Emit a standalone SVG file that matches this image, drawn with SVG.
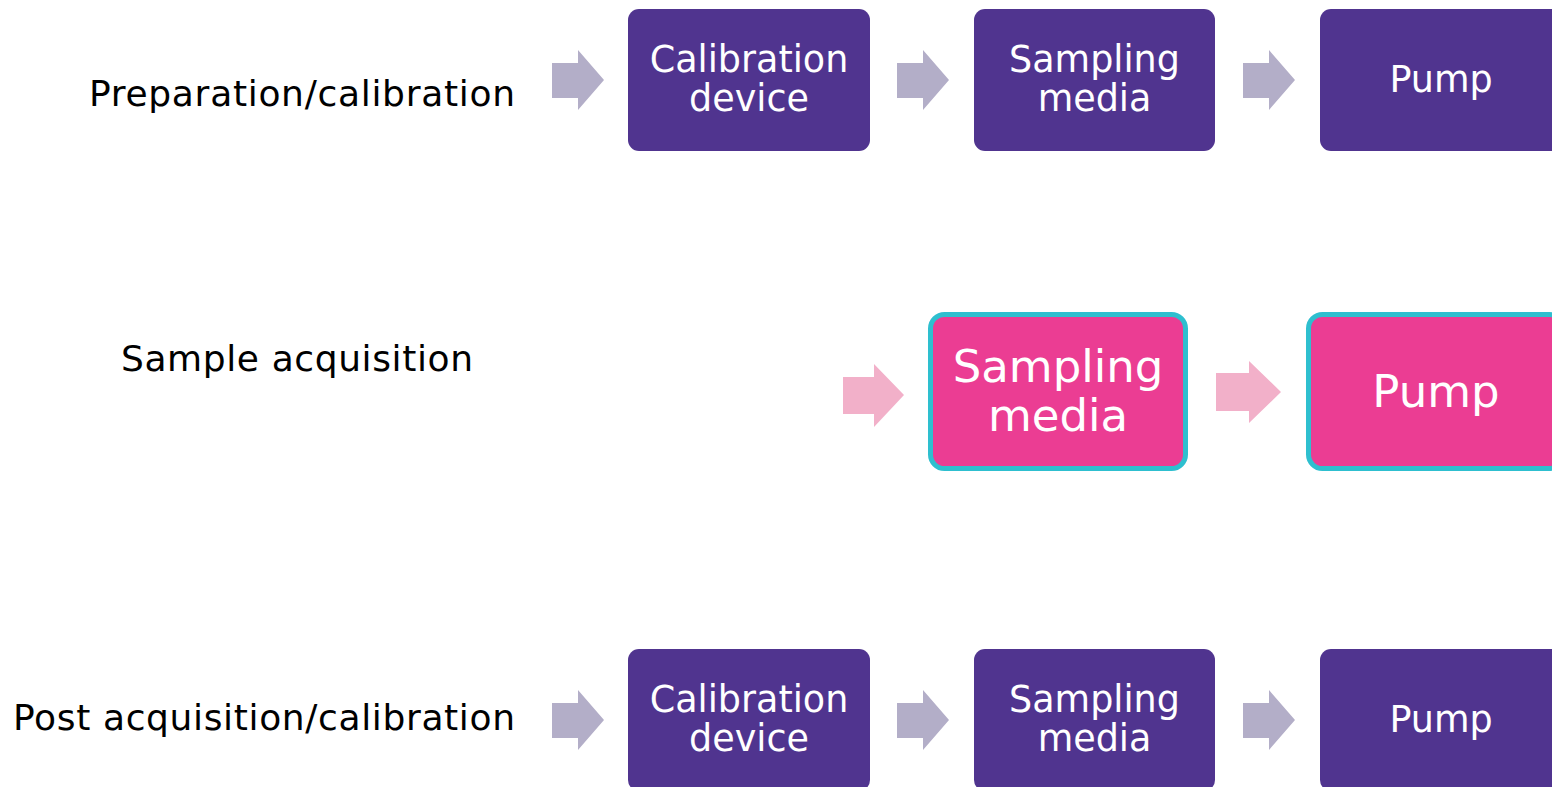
<svg xmlns="http://www.w3.org/2000/svg" width="1552" height="787" viewBox="0 0 1552 787">
<defs>
<style>
.lbl{font-family:"DejaVu Sans",Verdana,sans-serif;font-size:36px;fill:#000}
.bt{font-family:"DejaVu Sans",Verdana,sans-serif;font-size:36.5px;fill:#fff;text-anchor:middle}
.bt2{font-family:"DejaVu Sans",Verdana,sans-serif;font-size:45px;fill:#fff;text-anchor:middle}
.pb{fill:#50348f}
.pk{fill:#eb3d93;stroke:#2ebfcf;stroke-width:5}
.ga{fill:#b3aec8}
.pa{fill:#f2b0c9}
</style>
</defs>
<rect width="1552" height="787" fill="#fff"/>
<g id="labels">
<text class="lbl" x="89" y="106" textLength="426" lengthAdjust="spacing">Preparation/calibration</text>
<text class="lbl" x="121" y="371" textLength="352" lengthAdjust="spacing">Sample acquisition</text>
<text class="lbl" x="13" y="730" textLength="502" lengthAdjust="spacing">Post acquisition/calibration</text>
</g>
<g id="connectors">
<polygon class="ga" points="552,63 578,63 578,50 604,80 578,110 578,98 552,98"/>
<polygon class="ga" points="897,63 923,63 923,50 949,80 923,110 923,98 897,98"/>
<polygon class="ga" points="1243,63 1269,63 1269,50 1295,80 1269,110 1269,98 1243,98"/>
<polygon class="pa" points="843,377 874,377 874,364 904,395 874,427 874,414 843,414"/>
<polygon class="pa" points="1216,373 1249,373 1249,361 1281,392 1249,423 1249,411 1216,411"/>
<polygon class="ga" points="552,703 578,703 578,690 604,720 578,750 578,738 552,738"/>
<polygon class="ga" points="897,703 923,703 923,690 949,720 923,750 923,738 897,738"/>
<polygon class="ga" points="1243,703 1269,703 1269,690 1295,720 1269,750 1269,738 1243,738"/>
</g>
<g id="n-calib1">
<rect class="pb" x="628" y="9" width="242" height="142" rx="11"/>
<text class="bt" x="749" y="72">Calibration</text>
<text class="bt" x="749" y="111">device</text>
</g>
<g id="n-media1">
<rect class="pb" x="974" y="9" width="241" height="142" rx="11"/>
<text class="bt" x="1094.5" y="72">Sampling</text>
<text class="bt" x="1094.5" y="111">media</text>
</g>
<g id="n-pump1">
<rect class="pb" x="1320" y="9" width="242" height="142" rx="11"/>
<text class="bt" x="1441" y="92">Pump</text>
</g>
<g id="n-media2">
<rect class="pk" x="930.5" y="314.5" width="255" height="154" rx="14"/>
<text class="bt2" x="1058" y="382">Sampling</text>
<text class="bt2" x="1058" y="431">media</text>
</g>
<g id="n-pump2">
<rect class="pk" x="1308.5" y="314.5" width="255" height="154" rx="14"/>
<text class="bt2" x="1436" y="407">Pump</text>
</g>
<g id="n-calib3">
<rect class="pb" x="628" y="649" width="242" height="142" rx="11"/>
<text class="bt" x="749" y="712">Calibration</text>
<text class="bt" x="749" y="751">device</text>
</g>
<g id="n-media3">
<rect class="pb" x="974" y="649" width="241" height="142" rx="11"/>
<text class="bt" x="1094.5" y="712">Sampling</text>
<text class="bt" x="1094.5" y="751">media</text>
</g>
<g id="n-pump3">
<rect class="pb" x="1320" y="649" width="242" height="142" rx="11"/>
<text class="bt" x="1441" y="732">Pump</text>
</g>
</svg>
